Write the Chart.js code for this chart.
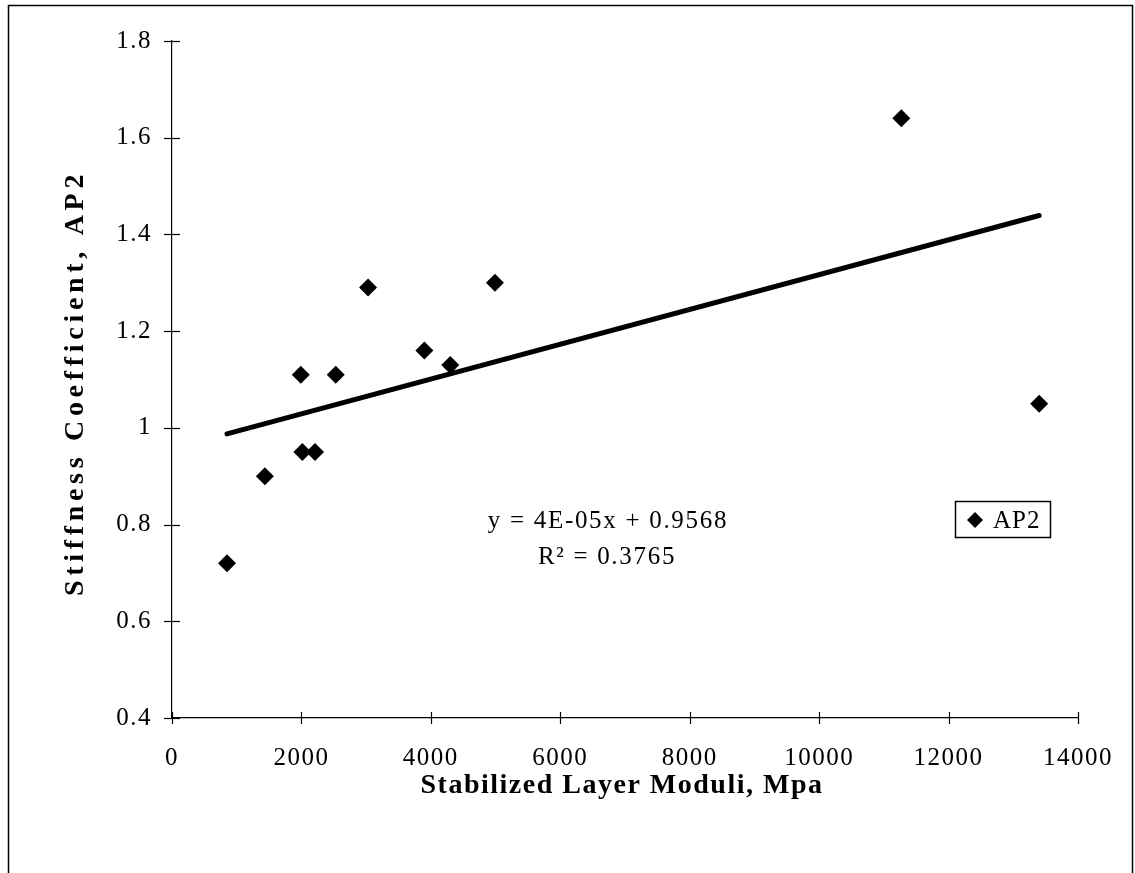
<!DOCTYPE html>
<html>
<head>
<meta charset="utf-8">
<script src="https://cdn.jsdelivr.net/npm/chart.js@4.4.1/dist/chart.umd.min.js"></script>
<style>
  html, body { margin: 0; padding: 0; background: #fff; }
  canvas { display: block; }
</style>
</head>
<body>
<canvas id="chart" width="1135" height="873"></canvas>
<script>
// Measured points: stabilized layer modulus (MPa) vs. stiffness coefficient AP2
const moduli = [850, 1435, 2015, 2210, 1990, 2530, 3030, 3900, 4300, 4990, 11270, 13400];
const ap2    = [0.72, 0.90, 0.95, 0.95, 1.11, 1.11, 1.29, 1.16, 1.13, 1.30, 1.64, 1.05];

const xTicks = [0, 2000, 4000, 6000, 8000, 10000, 12000, 14000];
const yTicks = [0.4, 0.6, 0.8, 1.0, 1.2, 1.4, 1.6, 1.8];

// Linear trend line
const trendSlope = 3.6e-5;
const trendIntercept = 0.9568;
const trendR2 = 0.3765;

const seriesName = 'AP2';
const xTitle = 'Stabilized Layer Moduli, Mpa';
const yTitle = 'Stiffness Coefficient, AP2';

const SERIF = '"Liberation Serif", "Times New Roman", serif';

const points = moduli.map((m, i) => ({ x: m, y: ap2[i] }));
const xMin = Math.min(...moduli);
const xMax = Math.max(...moduli);
const trend = [
  { x: xMin, y: trendIntercept + trendSlope * xMin },
  { x: xMax, y: trendIntercept + trendSlope * xMax }
];

// Excel-style exponent notation, e.g. 4E-05
function fmtExp(v) {
  const [m, e] = v.toExponential(0).split('e');
  const n = parseInt(e, 10);
  const sign = n < 0 ? '-' : '+';
  return m + 'E' + sign + String(Math.abs(n)).padStart(2, '0');
}
const eqText = 'y = ' + fmtExp(trendSlope) + 'x + ' + trendIntercept;
const r2Text = 'R\u00B2 = ' + trendR2;

const decorations = {
  id: 'decorations',
  beforeDraw(chart) {
    const ctx = chart.ctx;
    ctx.save();
    ctx.fillStyle = '#fff';
    ctx.fillRect(0, 0, chart.width, chart.height);
    ctx.strokeStyle = '#000';
    ctx.lineWidth = 1.5;
    ctx.strokeRect(8.5, 5.5, 1124, 880);
    ctx.restore();
    ctx.letterSpacing = '1.5px';
  },
  afterDraw(chart) {
    const ctx = chart.ctx;
    const area = chart.chartArea;
    const xs = chart.scales.x, ys = chart.scales.y;
    ctx.save();
    ctx.strokeStyle = '#000';
    ctx.lineWidth = 1.2;
    // tick marks crossing the axes
    xs.ticks.forEach(t => {
      const px = Math.round(xs.getPixelForValue(t.value)) + 0.5;
      ctx.beginPath();
      ctx.moveTo(px, area.bottom - 6);
      ctx.lineTo(px, area.bottom + 6);
      ctx.stroke();
    });
    ys.ticks.forEach(t => {
      const py = Math.round(ys.getPixelForValue(t.value)) + 0.5;
      ctx.beginPath();
      ctx.moveTo(area.left - 8, py);
      ctx.lineTo(area.left + 8, py);
      ctx.stroke();
    });

    ctx.fillStyle = '#000';
    // axis titles
    ctx.font = 'bold 28px ' + SERIF;
    ctx.letterSpacing = '1.5px';
    ctx.textAlign = 'center';
    ctx.textBaseline = 'middle';
    ctx.fillText(xTitle, 622, 786);
    ctx.save();
    ctx.translate(76, 383);
    ctx.rotate(-Math.PI / 2);
    ctx.letterSpacing = '4.7px';
    ctx.fillText(yTitle, 0, 0);
    ctx.restore();

    // trend equation
    ctx.font = '25px ' + SERIF;
    ctx.letterSpacing = '1.7px';
    ctx.fillText(eqText, 608, 521);
    ctx.fillText(r2Text, 607, 557);

    // legend
    ctx.lineWidth = 1.5;
    ctx.strokeRect(955.5, 501.5, 95, 36);
    const ds = chart.data.datasets[0];
    const cx = 975, cy = 520, r = 8;
    ctx.beginPath();
    ctx.moveTo(cx - r, cy);
    ctx.lineTo(cx, cy - r);
    ctx.lineTo(cx + r, cy);
    ctx.lineTo(cx, cy + r);
    ctx.closePath();
    ctx.fill();
    ctx.textAlign = 'left';
    ctx.letterSpacing = '1px';
    ctx.fillText(ds.label, 993, 521);
    ctx.restore();
  }
};

new Chart(document.getElementById('chart'), {
  type: 'scatter',
  data: {
    datasets: [
      {
        label: seriesName,
        data: points,
        pointStyle: 'rectRot',
        pointRadius: 9,
        pointHoverRadius: 9,
        backgroundColor: '#000',
        borderColor: '#000',
        borderWidth: 0,
        order: 1
      },
      {
        label: 'Linear (' + seriesName + ')',
        data: trend,
        showLine: true,
        borderColor: '#000',
        borderWidth: 5,
        borderCapStyle: 'round',
        pointRadius: 0,
        fill: false,
        order: 2
      }
    ]
  },
  options: {
    responsive: false,
    devicePixelRatio: 1,
    animation: false,
    layout: { padding: { left: 0, top: 41, right: 57, bottom: 0 } },
    plugins: {
      legend: { display: false },
      tooltip: { enabled: false }
    },
    scales: {
      x: {
        type: 'linear',
        min: 0,
        max: 14000,
        afterBuildTicks: s => { s.ticks = xTicks.map(v => ({ value: v })); },
        afterFit: s => { s.height = 155; },
        grid: { display: false, drawTicks: false },
        border: { display: true, color: '#000', width: 1.2 },
        ticks: {
          color: '#000',
          font: { family: SERIF, size: 25 },
          padding: 25,
          maxRotation: 0,
          callback: v => String(v)
        }
      },
      y: {
        type: 'linear',
        min: 0.4,
        max: 1.8,
        afterBuildTicks: s => { s.ticks = yTicks.map(v => ({ value: v })); },
        afterFit: s => { s.width = 172; },
        grid: { display: false, drawTicks: false },
        border: { display: true, color: '#000', width: 1.2 },
        ticks: {
          color: '#000',
          font: { family: SERIF, size: 25 },
          padding: 20,
          callback: v => String(Number(v.toFixed(1)))
        }
      }
    }
  },
  plugins: [decorations]
});
</script>
</body>
</html>
